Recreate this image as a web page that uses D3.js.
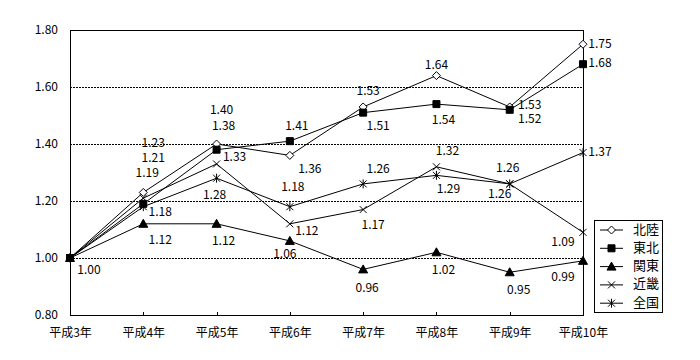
<!DOCTYPE html>
<html>
<head>
<meta charset="utf-8">
<script src="https://d3js.org/d3.v7.min.js"></script>
<style>
  body { margin: 0; background: #fff; }
  svg text { font-family: "MS Gothic", "Noto Sans CJK JP", sans-serif; fill: #000; }
</style>
</head>
<body>
<script>
// categories and series (index ratio, base year = 1.00)
var years = ["平成3年", "平成4年", "平成5年", "平成6年", "平成7年", "平成8年", "平成9年", "平成10年"];
var hokuriku = [1.00, 1.23, 1.40, 1.36, 1.53, 1.64, 1.53, 1.75];
var tohoku   = [1.00, 1.19, 1.38, 1.41, 1.51, 1.54, 1.52, 1.68];
var kanto    = [1.00, 1.12, 1.12, 1.06, 0.96, 1.02, 0.95, 0.99];
var kinki    = [1.00, 1.21, 1.33, 1.12, 1.17, 1.32, 1.26, 1.09];
var zenkoku  = [1.00, 1.18, 1.28, 1.18, 1.26, 1.29, 1.26, 1.37];
var yTicks = [0.80, 1.00, 1.20, 1.40, 1.60, 1.80];

// label offsets (px, from the point) - layout only
var labelOffsets = {
  "北陸": [[19, 13], [10, -49], [5, -33], [20, 14], [5, -15], [0, -10], [20, -1], [17, 0]],
  "東北": [null, [4, -30], [7, -23], [7, -14], [15, 14], [7, 17], [20, 10], [17, 0]],
  "関東": [null, [17, 17], [7, 18], [-5, 14], [4, 19], [7, 18], [9, 18], [-20, 17]],
  "近畿": [null, [10, -39], [18, -6], [17, 8], [10, 16], [11, -15], [-2, -15], [-20, 10]],
  "全国": [null, [17, 6], [-2, 18], [3, -19], [15, -14], [12, 14], [-10, 11], [17, 0]]
};

var series = [
  {name: "北陸", values: hokuriku, symbol: "diamond"},
  {name: "東北", values: tohoku, symbol: "square"},
  {name: "関東", values: kanto, symbol: "triangle"},
  {name: "近畿", values: kinki, symbol: "cross"},
  {name: "全国", values: zenkoku, symbol: "star"}
];

var W = 700, H = 360;
var pLeft = 70, pRight = 583, pTop = 30, pBottom = 315;

var svg = d3.select("body").append("svg")
    .attr("width", W).attr("height", H);

var x = d3.scalePoint().domain(years).range([pLeft, pRight]);
var y = d3.scaleLinear().domain([0.8, 1.8]).range([pBottom, pTop]);

// dotted gridlines
svg.append("g").selectAll("line")
    .data([1.0, 1.2, 1.4, 1.6])
    .enter().append("line")
    .attr("x1", pLeft).attr("x2", pRight)
    .attr("y1", function (d) { return Math.round(y(d)) + 0.5; })
    .attr("y2", function (d) { return Math.round(y(d)) + 0.5; })
    .attr("stroke", "#000")
    .attr("stroke-dasharray", "2,1")
    .attr("shape-rendering", "crispEdges");

// plot frame
svg.append("rect")
    .attr("x", pLeft + 0.5).attr("y", pTop + 0.5)
    .attr("width", pRight - pLeft).attr("height", pBottom - pTop)
    .attr("fill", "none").attr("stroke", "#000")
    .attr("shape-rendering", "crispEdges");

// y axis
var yAxis = svg.append("g")
    .attr("transform", "translate(" + pLeft + ",0)")
    .call(d3.axisLeft(y).tickValues(yTicks).tickSize(0).tickPadding(12).tickFormat(d3.format(".2f")));
yAxis.select(".domain").remove();
yAxis.selectAll("text").style("font-size", "12px");

// x axis, small ticks pointing up
var xAxis = svg.append("g")
    .attr("transform", "translate(0," + (pBottom + 0.5) + ")")
    .call(d3.axisBottom(x).tickSize(-4));
xAxis.select(".domain").remove();
xAxis.selectAll("line").attr("shape-rendering", "crispEdges");
xAxis.selectAll("text")
    .attr("y", 18).attr("dy", "0")
    .attr("dominant-baseline", "middle")
    .style("font-size", "12px");
svg.selectAll("g").attr("font-family", null);

function symbolPath(s) {
  if (s === "diamond") return "M0,-4L4,0L0,4L-4,0Z";
  if (s === "square") return "M-3.5,-3.5H3.5V3.5H-3.5Z";
  if (s === "triangle") return "M0,-4.5L4.5,3.5L-4.5,3.5Z";
  if (s === "cross") return "M-3.5,-3.5L3.5,3.5M-3.5,3.5L3.5,-3.5";
  return "M-3.5,-3.5L3.5,3.5M-3.5,3.5L3.5,-3.5M0,-4.5L0,4.5";
}
function drawMarker(g, s) {
  var filled = (s === "square" || s === "triangle");
  g.append("path")
    .attr("d", symbolPath(s))
    .attr("fill", s === "diamond" ? "#fff" : (filled ? "#000" : "none"))
    .attr("stroke", "#000")
    .attr("stroke-width", 1);
}

var line = d3.line()
    .x(function (d, i) { return x(years[i]); })
    .y(function (d) { return y(d); });

// lines
series.forEach(function (s) {
  svg.append("path")
      .datum(s.values)
      .attr("d", line)
      .attr("fill", "none")
      .attr("stroke", "#000")
      .attr("stroke-width", 1);
});

// markers (東北 last so the square sits on top)
var markerOrder = [0, 2, 3, 4, 1];
markerOrder.forEach(function (k) {
  var s = series[k];
  s.values.forEach(function (v, i) {
    var g = svg.append("g")
        .attr("transform", "translate(" + x(years[i]) + "," + y(v) + ")");
    drawMarker(g, s.symbol);
  });
});

// value labels
series.forEach(function (s) {
  s.values.forEach(function (v, i) {
    var off = labelOffsets[s.name][i];
    if (!off) return;
    svg.append("text")
        .attr("x", x(years[i]) + off[0])
        .attr("y", y(v) + off[1])
        .attr("text-anchor", "middle")
        .attr("dominant-baseline", "middle")
        .style("font-size", "12px")
        .text(d3.format(".2f")(v));
  });
});

// legend
var lg = svg.append("g");
lg.append("rect")
    .attr("x", 594.5).attr("y", 220.5)
    .attr("width", 68).attr("height", 92)
    .attr("fill", "#fff").attr("stroke", "#000")
    .attr("shape-rendering", "crispEdges");
series.forEach(function (s, i) {
  var ly = 230 + i * 18.3;
  lg.append("line")
      .attr("x1", 600).attr("x2", 623)
      .attr("y1", ly).attr("y2", ly)
      .attr("stroke", "#000");
  var g = lg.append("g").attr("transform", "translate(611.5," + ly + ")");
  drawMarker(g, s.symbol);
  lg.append("text")
      .attr("x", 633).attr("y", ly)
      .attr("dominant-baseline", "middle")
      .style("font-size", "13px")
      .text(s.name);
});
</script>
</body>
</html>
